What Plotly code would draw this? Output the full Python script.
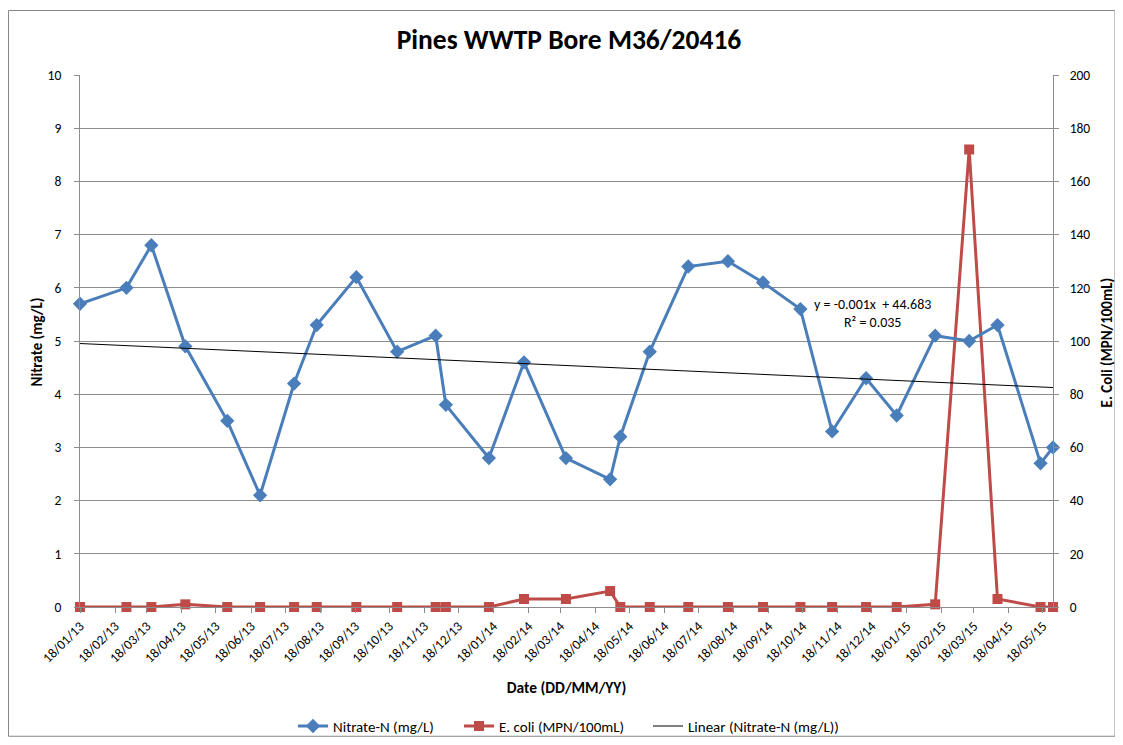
import numpy as np
import pandas as pd
import plotly.graph_objects as go

# ---------------- data ----------------
sample_dates = [
    "2013-01-18", "2013-02-28", "2013-03-22", "2013-04-21", "2013-05-28",
    "2013-06-26", "2013-07-26", "2013-08-15", "2013-09-19", "2013-10-25",
    "2013-11-28", "2013-12-07", "2014-01-14", "2014-02-14", "2014-03-23",
    "2014-05-01", "2014-05-10", "2014-06-05", "2014-07-09", "2014-08-13",
    "2014-09-13", "2014-10-16", "2014-11-13", "2014-12-13", "2015-01-09",
    "2015-02-12", "2015-03-14", "2015-04-08", "2015-05-16", "2015-05-27",
]
nitrate_mg_l = [
    5.7, 6.0, 6.8, 4.9, 3.5, 2.1, 4.2, 5.3, 6.2, 4.8,
    5.1, 3.8, 2.8, 4.6, 2.8, 2.4, 3.2, 4.8, 6.4, 6.5,
    6.1, 5.6, 3.3, 4.3, 3.6, 5.1, 5.0, 5.3, 2.7, 3.0,
]
ecoli_mpn = [
    0, 0, 0, 1, 0, 0, 0, 0, 0, 0,
    0, 0, 0, 3, 3, 6, 0, 0, 0, 0,
    0, 0, 0, 0, 0, 1, 172, 3, 0, 0,
]
trend_equation = "y = -0.001x  + 44.683"
trend_r2 = "R² = 0.035"

title_text = "Pines WWTP Bore M36/20416"
x_title = "Date (DD/MM/YY)"
y_left_title = "Nitrate (mg/L)"
y_right_title = "E. Coli (MPN/100mL)"
name_nitrate = "Nitrate-N (mg/L)"
name_ecoli = "E. coli (MPN/100mL)"
name_trend = "Linear (Nitrate-N (mg/L))"

# ---------------- derived ----------------
dts = pd.to_datetime(sample_dates)
days = np.array([(d - dts[0]).days for d in dts], dtype=float)
slope, intercept = np.polyfit(days, np.array(nitrate_mg_l), 1)
trend_x = [dts[0], dts[-1]]
trend_y = [intercept + slope * days[0], intercept + slope * days[-1]]

FONT = "Carlito, Calibri, Lato, sans-serif"
BLUE = "#4A7EBB"
RED = "#BE4B48"
GRID = "#8C8C8C"

# The page body has an 8px margin, so the figure is drawn at (8, 8).
OFF = 8
W, H = 1123 - OFF, 745 - OFF
# plot-area geometry in page pixels
PL, PR, PT, PB = 80, 1053, 74.5, 606.7
fPL, fPR, fPT, fPB = PL - OFF, PR - OFF, PT - OFF, PB - OFF


def px_x(p):
    return (p - OFF - fPL) / (fPR - fPL)


def px_y(p):
    return (fPB - (p - OFF)) / (fPB - fPT)


fig = go.Figure()

fig.add_trace(go.Scatter(
    x=dts, y=ecoli_mpn, name=name_ecoli, yaxis="y", mode="lines+markers",
    line=dict(color=RED, width=3), marker=dict(symbol="square", size=10, color=RED),
    cliponaxis=False, legend="legend2",
))
fig.add_trace(go.Scatter(
    x=dts, y=nitrate_mg_l, name=name_nitrate, yaxis="y2", mode="lines+markers",
    line=dict(color=BLUE, width=3), marker=dict(symbol="diamond", size=11, color=BLUE),
    cliponaxis=False, legend="legend",
))
fig.add_trace(go.Scatter(
    x=trend_x, y=trend_y, name=name_trend, yaxis="y2", mode="lines",
    line=dict(color="#000000", width=1), legend="legend3",
))

legend_common = dict(orientation="h", xanchor="left", y=px_y(726), yanchor="middle",
                     font=dict(family=FONT, size=15), bgcolor="rgba(0,0,0,0)")

fig.update_layout(
    width=W, height=H,
    margin=dict(l=fPL, r=W - fPR, t=fPT, b=H - fPB, pad=0, autoexpand=False),
    paper_bgcolor="white", plot_bgcolor="white",
    font=dict(family=FONT, size=13, color="#000000"),
    title=dict(text=f"<b>{title_text}</b>", x=(569 - OFF) / W, xanchor="center",
               y=1 - (39 - OFF) / H, yanchor="middle",
               font=dict(family=FONT, size=27.5, color="#000000")),
    xaxis=dict(
        type="date", range=[dts[0], dts[-1]],
        tick0="2013-01-18", dtick="M1", tickformat="%d/%m/%y", tickangle=-45,
        ticks="outside", ticklen=5, tickcolor=GRID,
        showline=True, linecolor=GRID, linewidth=1, showgrid=False, zeroline=False,
        tickfont=dict(family=FONT, size=13.5),
        title=dict(text=f"<b>{x_title}</b>", standoff=16, font=dict(family=FONT, size=15.5)),
    ),
    yaxis=dict(
        side="right", range=[0, 200], dtick=20,
        showgrid=True, gridcolor=GRID, gridwidth=1, zeroline=False,
        showline=True, linecolor=GRID, ticks="outside", ticklen=5, tickcolor=GRID,
        ticklabelstandoff=8, tickfont=dict(family=FONT, size=13.5),
    ),
    yaxis2=dict(
        side="left", overlaying="y", range=[0, 10], dtick=1,
        showgrid=False, zeroline=False,
        showline=True, linecolor=GRID, ticks="outside", ticklen=5, tickcolor=GRID,
        ticklabelstandoff=10, tickfont=dict(family=FONT, size=13.5),
    ),
    legend=dict(x=px_x(301 - 8), **legend_common),
    legend2=dict(x=px_x(467 - 8), **legend_common),
    legend3=dict(x=px_x(656 - 8), **legend_common),
    showlegend=True,
)

# axis titles
fig.add_annotation(
    text=f"<b>{y_left_title}</b>", xref="paper", yref="paper",
    x=px_x(37), y=px_y(342), xanchor="center", yanchor="middle",
    textangle=-90, showarrow=False, font=dict(family=FONT, size=15),
)
fig.add_annotation(
    text=f"<b>{y_right_title}</b>", xref="paper", yref="paper",
    x=px_x(1107), y=px_y(342), xanchor="center", yanchor="middle",
    textangle=-90, showarrow=False, font=dict(family=FONT, size=15),
)

# trendline equation
fig.add_annotation(
    text=f"{trend_equation}<br>{trend_r2}", xref="paper", yref="paper",
    x=px_x(872), y=px_y(313), xanchor="center", yanchor="middle",
    showarrow=False, align="center", font=dict(family=FONT, size=14),
)

# chart-area border
fig.add_shape(type="rect", xref="paper", yref="paper",
              x0=px_x(8.5), x1=px_x(1115), y0=px_y(736), y1=px_y(10),
              line=dict(color="#888888", width=1), layer="below")

fig.write_html("out.html")
